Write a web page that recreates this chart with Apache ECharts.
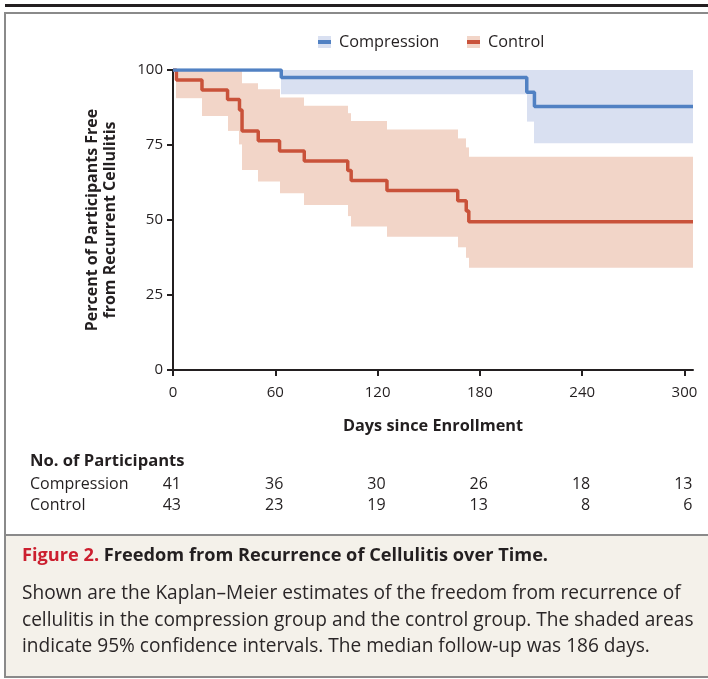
<!DOCTYPE html>
<html>
<head>
<meta charset="utf-8">
<script src="https://cdn.jsdelivr.net/npm/echarts@6/dist/echarts.min.js"></script>
<style>
html,body{margin:0;padding:0;background:#fff;}
#c{width:708px;height:679px;}
</style>
</head>
<body>
<div id="c"></div>
<script>
// ---- data ----
const seriesNames = ['Compression', 'Control'];
const xTicks = [0, 60, 120, 180, 240, 300];
const yTicks = [0, 25, 50, 75, 100];

const compTime  = [0, 63.5, 207.5, 212, 305];
const compSurv  = [100, 97.5, 92.6, 87.8, 87.8];
const compLower = [100, 91.9, 82.8, 75.6, 75.6];
const compUpper = [100, 100, 100, 100, 100];

const ctrlTime  = [0, 2, 17, 32, 39, 40.5, 50, 62.5, 77, 102.5, 104.5, 125.5, 167, 172, 173.5, 305];
const ctrlSurv  = [100, 96.7, 93.3, 90.2, 86.7, 79.7, 76.4, 73.0, 69.7, 66.5, 63.2, 59.8, 56.4, 53.0, 49.4, 49.4];
const ctrlLower = [100, 90.6, 84.7, 79.7, 75.2, 66.7, 62.8, 58.9, 55.0, 51.3, 47.8, 44.4, 40.9, 37.4, 34.1, 34.1];
const ctrlUpper = [100, 100, 100, 100, 100, 95.6, 93.6, 90.8, 88.1, 85.6, 83.0, 80.2, 77.2, 74.2, 71.1, 71.1];

const riskTimes = [0, 60, 120, 180, 240, 300];
const riskComp  = [41, 36, 30, 26, 18, 13];
const riskCtrl  = [43, 23, 19, 13, 8, 6];

const captionTitleRed = 'Figure 2.';
const captionTitle = ' Freedom from Recurrence of Cellulitis over Time.';
const captionBody = [
  'Shown are the Kaplan\u2013Meier estimates of the freedom from recurrence of',
  'cellulitis in the compression group and the control group. The shaded areas',
  'indicate 95% confidence intervals. The median follow-up was 186 days.'
];

// ---- styles ----
const FONT = '"Open Sans"';
const BLUE = '#5181c3', BLUE_BAND = '#d9e0f1';
const RED = '#c9523a', RED_BAND = '#f2d5c8';
const AX = '#231f20';

const zip = (t, v) => t.map((x, i) => [x, v[i]]);
const intervals = (t, lo, up) => t.slice(0, -1).map((x, i) => [x, t[i + 1], lo[i], up[i]]);

const chart = echarts.init(document.getElementById('c'), null, {renderer: 'canvas'});

function bandSeries(name, t, lo, up, color) {
  return {
    type: 'custom', name: name, silent: true, z: 1,
    data: intervals(t, lo, up),
    encode: {x: [0, 1], y: [2, 3]},
    renderItem: function (params, api) {
      const p0 = api.coord([api.value(0), api.value(3)]);
      const p1 = api.coord([api.value(1), api.value(2)]);
      const x0 = Math.round(p0[0]), x1 = Math.round(p1[0]);
      return {type: 'rect', shape: {x: x0, y: p0[1], width: x1 - x0, height: p1[1] - p0[1]},
              style: {fill: color}};
    }
  };
}

const option = {
  animation: false,
  grid: {left: 173, right: 15, top: 70, bottom: 309, containLabel: false},
  xAxis: {
    type: 'value', min: 0, max: 305, interval: 60,
    name: 'Days since Enrollment', nameLocation: 'middle', nameGap: 48,
    nameTextStyle: {fontFamily: FONT, fontWeight: 'bold', fontSize: 16.3, color: AX},
    axisLine: {lineStyle: {color: AX, width: 2}},
    axisTick: {show: true, length: 6, lineStyle: {color: AX, width: 2}, customValues: xTicks},
    axisLabel: {fontFamily: FONT, fontSize: 15, color: AX, margin: 15, customValues: xTicks},
    splitLine: {show: false}
  },
  yAxis: {
    type: 'value', min: 0, max: 100, interval: 25,
    name: 'Percent of Participants Free\nfrom Recurrent Cellulitis', nameLocation: 'middle', nameGap: 54, nameRotate: 90,
    nameTextStyle: {fontFamily: FONT, fontWeight: 'bold', fontSize: 16, color: AX, lineHeight: 18},
    axisLine: {show: true, lineStyle: {color: AX, width: 2}},
    axisTick: {show: true, length: 6, lineStyle: {color: AX, width: 2}},
    axisLabel: {fontFamily: FONT, fontSize: 15, color: AX, margin: 10},
    splitLine: {show: false}
  },
  series: [
    bandSeries('ctrlCI', ctrlTime, ctrlLower, ctrlUpper, RED_BAND),
    bandSeries('compCI', compTime, compLower, compUpper, BLUE_BAND),
    {type: 'line', name: seriesNames[1], step: 'end', symbol: 'none', data: zip(ctrlTime, ctrlSurv),
     lineStyle: {color: RED, width: 3.5}, itemStyle: {color: RED}, z: 3},
    {type: 'line', name: seriesNames[0], step: 'end', symbol: 'none', data: zip(compTime, compSurv),
     lineStyle: {color: BLUE, width: 3.5}, itemStyle: {color: BLUE}, z: 4}
  ]
};
chart.setOption(option);

// ---- graphics: frame, legend, risk table, caption ----
const gx = t => chart.convertToPixel({xAxisIndex: 0}, t);
const g = [];
g.push({type: 'rect', shape: {x: 5, y: 4, width: 703, height: 3}, style: {fill: AX}, silent: true});
g.push({type: 'rect', shape: {x: 5, y: 12, width: 703, height: 2}, style: {fill: '#8a8a8a'}, silent: true});
g.push({type: 'rect', shape: {x: 4, y: 12, width: 2, height: 666}, style: {fill: '#8a8a8a'}, silent: true});
g.push({type: 'rect', shape: {x: 5, y: 535, width: 703, height: 142}, style: {fill: '#f4f1ea'}, silent: true, z: -1});
g.push({type: 'rect', shape: {x: 5, y: 534, width: 703, height: 2}, style: {fill: '#8a8a8a'}, silent: true});
g.push({type: 'rect', shape: {x: 4, y: 676, width: 704, height: 2}, style: {fill: '#8a8a8a'}, silent: true});

const leg = [{x: 318, name: seriesNames[0], c: BLUE, b: BLUE_BAND}, {x: 467, name: seriesNames[1], c: RED, b: RED_BAND}];
leg.forEach(l => {
  g.push({type: 'rect', shape: {x: l.x, y: 36, width: 13, height: 12}, style: {fill: l.b}, silent: true});
  g.push({type: 'rect', shape: {x: l.x, y: 40, width: 13, height: 4}, style: {fill: l.c}, silent: true});
  g.push({type: 'text', x: l.x + 21, y: 42, style: {text: l.name, font: '16.3px ' + FONT, fill: AX, textVerticalAlign: 'middle'}, silent: true});
});

g.push({type: 'text', x: 30, y: 461, style: {text: 'No. of Participants', font: 'bold 16.6px ' + FONT, fill: AX, textVerticalAlign: 'middle'}, silent: true});
g.push({type: 'text', x: 30, y: 484, style: {text: seriesNames[0], font: '16px ' + FONT, fill: AX, textVerticalAlign: 'middle'}, silent: true});
g.push({type: 'text', x: 30, y: 505, style: {text: seriesNames[1], font: '16px ' + FONT, fill: AX, textVerticalAlign: 'middle'}, silent: true});
riskTimes.forEach((t, i) => {
  const px = gx(t) + 8;
  g.push({type: 'text', x: px, y: 484, style: {text: String(riskComp[i]), font: '16px ' + FONT, fill: AX, textAlign: 'right', textVerticalAlign: 'middle'}, silent: true});
  g.push({type: 'text', x: px, y: 505, style: {text: String(riskCtrl[i]), font: '16px ' + FONT, fill: AX, textAlign: 'right', textVerticalAlign: 'middle'}, silent: true});
});

g.push({type: 'text', x: 22, y: 556, style: {
  text: '{r|' + captionTitleRed + '}{b|' + captionTitle + '}',
  textVerticalAlign: 'middle',
  rich: {
    r: {fontFamily: 'Open Sans', fontWeight: 'bold', fontSize: 18.2, fill: '#cc1f2f'},
    b: {fontFamily: 'Open Sans', fontWeight: 'bold', fontSize: 18.2, fill: AX}
  }}, silent: true});
captionBody.forEach((line, i) => {
  g.push({type: 'text', x: 22, y: 594 + i * 26.5, style: {text: line, font: '19.1px ' + FONT, fill: '#2a2627', textVerticalAlign: 'middle'}, silent: true});
});

chart.setOption({graphic: {elements: g}});
</script>
</body>
</html>
